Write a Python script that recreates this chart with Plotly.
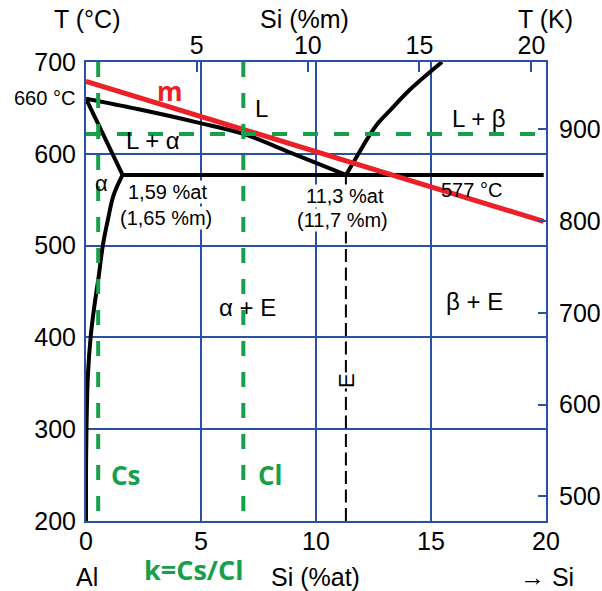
import plotly.graph_objects as go

# ---------------- data (Si in %at, T in °C) ----------------
liq_al_x = [0, 2.19, 4.87, 6.84, 8.72, 11.3]
liq_al_t = [660, 649, 634, 621.7, 603, 577]

solidus_x = [0, 1.59]
solidus_t = [660, 577]

solvus_x = [1.59, 1.2, 0.95, 0.73, 0.55, 0.38, 0.2, 0.08, 0.02, 0, 0]
solvus_t = [577, 555, 528, 500, 466, 437, 400, 357, 300, 250, 200]

liq_si_x = [11.3, 11.7, 12.21, 12.71, 13.22, 14.09, 15.48]
liq_si_t = [577, 593.7, 615.5, 633.7, 647.3, 670, 700]

eutectic_x = [1.59, 19.9]
eutectic_t = [577, 577]

e_line_x = [11.3, 11.3]
e_line_t = [577, 200]

m_line_x = [0, 19.9]
m_line_t = [679, 526.4]

green_h_x = [0, 19.6]
green_h_t = [621.7, 621.7]
cs_x = [0.53, 0.53]
cl_x = [6.84, 6.84]
green_v_t = [700, 200]

bottom_ticks = [0, 5, 10, 15, 20]
left_ticks = [200, 300, 400, 500, 600, 700]
top_ticks_wt = [5, 10, 15, 20]          # Si (%m)
right_ticks_k = [500, 600, 700, 800, 900]  # T (K)

M_AL, M_SI = 26.98, 28.0855


def wt_to_at(w):
    a = w / M_SI
    b = (100 - w) / M_AL
    return 100 * a / (a + b)


BLUE = "#2a50a5"
GREEN = "#17a04a"
RED = "#ec2027"
FONT = "Liberation Sans"
BOLD = "Open Sans"

fig = go.Figure()


def line(x, y, color, width, dash="solid", shape="linear"):
    fig.add_trace(go.Scatter(x=x, y=y, mode="lines",
                             line=dict(color=color, width=width, dash=dash, shape=shape),
                             hoverinfo="skip", showlegend=False))


line(e_line_x, e_line_t, "black", 2, "13px,5.5px")
line(liq_al_x, liq_al_t, "black", 4, shape="spline")
line(solidus_x, solidus_t, "black", 4)
line(solvus_x, solvus_t, "black", 4, shape="spline")
line(liq_si_x, liq_si_t, "black", 4, shape="spline")
line(eutectic_x, eutectic_t, "black", 4)
line(m_line_x, m_line_t, RED, 5)
line(green_h_x, green_h_t, GREEN, 4, "15px,16px")
line(cs_x, green_v_t, GREEN, 4, "15px,16px")
line(cl_x, green_v_t, GREEN, 4, "15px,16px")

# dummy trace to activate secondary axes
fig.add_trace(go.Scatter(x=[None], y=[None], xaxis="x2", yaxis="y2",
                         hoverinfo="skip", showlegend=False))

ann = []


def txt(x, y, s, size=24, color="black", bold=False, bg=None, xref="x", yref="y",
        xanchor="center", angle=0):
    d = dict(x=x, y=y, xref=xref, yref=yref, text=s, showarrow=False,
             xanchor=xanchor, yanchor="middle", textangle=angle,
             font=dict(family=BOLD if bold else FONT, size=size, color=color,
                       weight="bold" if bold else "normal"))
    if bg:
        d["bgcolor"] = bg
        d["borderpad"] = 0
    ann.append(d)


txt(3.65, 668.4, "m", size=26, color=RED, bold=True)
txt(7.64, 649.6, "L")
txt(2.93, 615, "L + α")
txt(0.68, 568, "α", size=22)
txt(3.54, 558.4, "1,59 %at", size=20, bg="white")
txt(3.48, 530, "(1,65 %m)", size=20, bg="white")
txt(11.28, 554, "11,3 %at", size=20, bg="white")
txt(11.17, 528, "(11,7 %m)", size=20, bg="white")
txt(16.78, 560.6, "577 °C", size=20)
txt(17.09, 638, "L + β")
txt(7.04, 433, "α + E")
txt(16.87, 439.6, "β + E")
txt(11.3, 353.6, "E", size=22, bg="white", angle=-90)
txt(1.74, 250, "Cs", size=26, color=GREEN, bold=True)
txt(8.0, 250, "Cl", size=26, color=GREEN, bold=True)
txt(-0.0196, 661.3, "660 °C", size=20, xref="paper", xanchor="right")
txt(0.04, 1.0945, "T (°C)", size=25, yref="paper")
txt(9.52, 1.0945, "Si (%m)", size=25, yref="paper")
txt(19.98, 1.0945, "T (K)", size=25, yref="paper")
txt(0.03, -0.122, "Al", size=25, yref="paper")
txt(4.67, -0.106, "k=Cs/Cl", size=27, color=GREEN, bold=True, yref="paper")
txt(9.96, -0.122, "Si (%at)", size=25, yref="paper")
txt(1.002, -0.122, "→ Si", size=25, xref="paper", yref="paper")

tickfont = dict(family=FONT, size=25, color="black")

fig.update_layout(
    width=602, height=591, autosize=False,
    margin=dict(l=86, r=56, t=62, b=70, autoexpand=False),
    paper_bgcolor="white", plot_bgcolor="white",
    annotations=ann,
    xaxis=dict(range=[0, 20], tickvals=bottom_ticks, ticks="", showgrid=True,
               gridcolor=BLUE, gridwidth=2, showline=True, linecolor=BLUE, linewidth=2,
               mirror=True, zeroline=False, tickfont=tickfont, layer="below traces",
               ticklabelstandoff=-3, automargin=False),
    yaxis=dict(range=[200, 700], tickvals=left_ticks, ticks="", showgrid=True,
               gridcolor=BLUE, gridwidth=2, showline=True, linecolor=BLUE, linewidth=2,
               mirror=True, zeroline=False, tickfont=tickfont, layer="below traces",
               ticklabelstandoff=3, automargin=False),
    xaxis2=dict(range=[0, 20], overlaying="x", side="top", anchor="y",
                tickvals=[wt_to_at(w) for w in top_ticks_wt],
                ticktext=[str(w) for w in top_ticks_wt],
                ticks="inside", ticklen=10, tickwidth=2, tickcolor=BLUE,
                showgrid=False, showline=False, zeroline=False, tickfont=tickfont,
                ticklabelstandoff=2, automargin=False),
    yaxis2=dict(range=[200, 700], overlaying="y", side="right", anchor="x",
                tickvals=[k - 273.15 for k in right_ticks_k],
                ticktext=[str(k) for k in right_ticks_k],
                ticks="inside", ticklen=8, tickwidth=2, tickcolor=BLUE,
                showgrid=False, showline=False, zeroline=False, tickfont=tickfont,
                ticklabelstandoff=12, automargin=False),
)

fig.write_html("out.html", config={"responsive": False, "displayModeBar": False},
               post_script="document.body.style.margin='0';document.body.style.overflow='hidden';")
